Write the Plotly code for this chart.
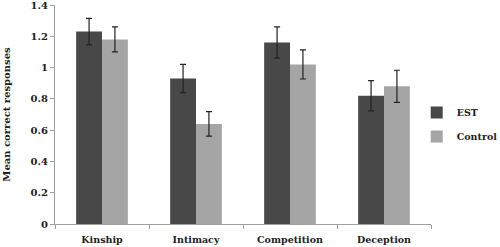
import plotly.graph_objects as go

categories = ["Kinship", "Intimacy", "Competition", "Deception"]
est_values = [1.23, 0.93, 1.16, 0.82]
est_errors = [0.085, 0.09, 0.10, 0.097]
control_values = [1.18, 0.64, 1.02, 0.88]
control_errors = [0.08, 0.078, 0.093, 0.103]
y_ticks = [0, 0.2, 0.4, 0.6, 0.8, 1, 1.2, 1.4]
y_tick_labels = ["0", "0.2", "0.4", "0.6", "0.8", "1", "1.2", "1.4"]

FONT = "DejaVu Serif"
TXT = "#222222"

fig = go.Figure()
fig.add_trace(go.Bar(
    x=categories, y=est_values, name="EST", legendgroup="a",
    marker=dict(color="#484848", line=dict(width=0)),
    error_y=dict(type="data", array=est_errors, color="#222222", thickness=1.2, width=3),
))
fig.add_trace(go.Bar(
    x=categories, y=control_values, name="Control", legendgroup="b",
    marker=dict(color="#a5a5a5", line=dict(width=0)),
    error_y=dict(type="data", array=control_errors, color="#222222", thickness=1.2, width=3),
))

fig.update_layout(
    width=500, height=247,
    margin=dict(l=55, r=69, t=5, b=23, autoexpand=False),
    paper_bgcolor="white", plot_bgcolor="white",
    barmode="group", bargap=0.45, bargroupgap=0,
    font=dict(family=FONT, size=10, color=TXT, weight="bold"),
    showlegend=True,
    legend=dict(x=0.962, y=0.575, xanchor="left", yanchor="top",
                traceorder="grouped", tracegroupgap=5,
                font=dict(family=FONT, size=9.5, color=TXT, weight="bold"),
                itemwidth=30, bgcolor="rgba(0,0,0,0)"),
    xaxis=dict(
        showline=True, linecolor="#a0a0a0", linewidth=1,
        ticks="outside", tickson="boundaries", ticklen=4, tickcolor="#a0a0a0",
        tickfont=dict(family=FONT, size=9.5, color=TXT, weight="bold"),
        tickangle=0, automargin=False, ticklabelstandoff=7,
        showgrid=False,
    ),
    yaxis=dict(
        range=[0, 1.4], tickmode="array", tickvals=y_ticks, ticktext=y_tick_labels,
        showline=True, linecolor="#a0a0a0", linewidth=1,
        ticks="outside", ticklen=4, tickcolor="#a0a0a0",
        tickfont=dict(family=FONT, size=10, color=TXT, weight="bold"),
        ticklabeloverflow="allow",
        showgrid=False, zeroline=False, automargin=False,
        title=dict(text="Mean correct responses", standoff=18,
                   font=dict(family=FONT, size=10, color=TXT, weight="bold")),
    ),
)

fig.write_html("out.html", config={"displayModeBar": False},
               post_script="document.body.style.margin='0';document.body.style.overflow='hidden';")
